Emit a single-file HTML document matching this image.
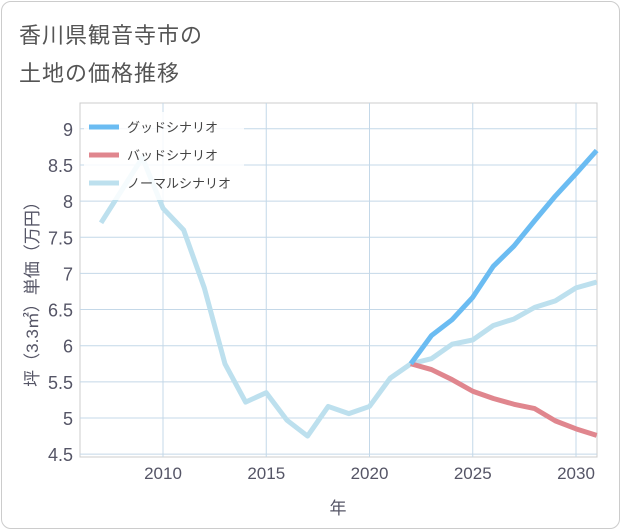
<!DOCTYPE html>
<html><head><meta charset="utf-8"><style>
body{margin:0;background:#fff;}
#card{position:absolute;left:1px;top:1px;width:617px;height:526px;border:1px solid #ccc;border-radius:10px;background:#fff;overflow:hidden;}
.title{position:absolute;left:17px;font:22px "Liberation Sans","Noto Sans CJK JP",sans-serif;color:#555;letter-spacing:1px;}
svg text{font-family:"Liberation Sans","Noto Sans CJK JP",sans-serif;}
</style></head><body>
<div id="card">
<div class="title" style="top:16px">香川県観音寺市の</div>
<div class="title" style="top:54px">土地の価格推移</div>
</div>
<svg id="chart" width="621" height="530" style="position:absolute;left:0;top:0"></svg>
<script>
const years=[2007,2008,2009,2010,2011,2012,2013,2014,2015,2016,2017,2018,2019,2020,2021,2022,2023,2024,2025,2026,2027,2028,2029,2030,2031];
const normalVals=[7.7,8.15,8.6,7.9,7.6,6.8,5.75,5.22,5.35,4.97,4.75,5.16,5.06,5.16,5.55,5.75,5.82,6.02,6.08,6.28,6.37,6.53,6.62,6.8,6.88];
const futureYears=[2022,2023,2024,2025,2026,2027,2028,2029,2030,2031];
const goodVals=[5.75,6.14,6.36,6.67,7.1,7.38,7.73,8.07,8.38,8.7];
const badVals=[5.75,5.67,5.53,5.37,5.27,5.19,5.13,4.96,4.85,4.76];
const xTicks=[2010,2015,2020,2025,2030];
const yTicks=[4.5,5,5.5,6,6.5,7,7.5,8,8.5,9];
const legendLabels=["グッドシナリオ","バッドシナリオ","ノーマルシナリオ"];
const colors=["#6bbcf2","#e0868e","#bde0ee"];
const L=80,R=597,T=103,B=457;
const X=y=>163+(y-2010)*20.65;
const Y=v=>418-(v-5)*72.3;
const svg=document.getElementById('chart');
const NS='http://www.w3.org/2000/svg';
function mk(t,a){const e=document.createElementNS(NS,t);for(const k in a)e.setAttribute(k,a[k]);svg.appendChild(e);return e;}
const bg=mk('rect',{x:L,y:T,width:R-L,height:B-T,fill:'#fff',stroke:'#ccc'});


xTicks.forEach(y=>{const l=mk('line',{x1:X(y),x2:X(y),y1:T,y2:B,stroke:'#c4d8e8'});

});
yTicks.forEach(v=>{const l=mk('line',{x1:L,x2:R,y1:Y(v),y2:Y(v),stroke:'#c4d8e8'});


const t=mk('text',{x:73,y:Y(v)+7,'text-anchor':'end','font-size':18,fill:'#556'});t.textContent=v;

});
xTicks.forEach(v=>{const t=mk('text',{x:X(v),y:479,'text-anchor':'middle','font-size':17,fill:'#556'});t.textContent=v;

});
const xt=mk('text',{x:338,y:514,'text-anchor':'middle','font-size':17,fill:'#556'});xt.textContent='年';


const yt=mk('text',{x:0,y:0,'text-anchor':'middle','font-size':17,fill:'#556',transform:'translate(38,290) rotate(-90)'});yt.textContent='坪（3.3㎡）単価（万円）';


function line(xs,vs,c,name){const p=mk('polyline',{points:xs.map((y,i)=>X(y)+','+Y(vs[i])).join(' '),fill:'none',stroke:c,'stroke-width':5,'stroke-linejoin':'round'});

}
line(years,normalVals,colors[2],'normal-scenario-line');
line(futureYears,badVals,colors[1],'bad-scenario-line');
line(futureYears,goodVals,colors[0],'good-scenario-line');
const lg=mk('rect',{x:84,y:112,width:160,height:88,fill:'rgba(255,255,255,0.85)'});


legendLabels.forEach((s,i)=>{const y=127+i*28;
const l=mk('line',{x1:89,x2:119,y1:y,y2:y,stroke:colors[i],'stroke-width':5});


const t=mk('text',{x:127,y:y+5,'font-size':13,fill:'#444'});t.textContent=s;

});
</script>
</body></html>
